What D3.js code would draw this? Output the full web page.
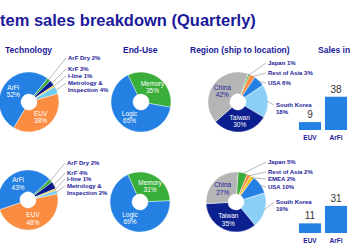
<!DOCTYPE html>
<html>
<head>
<meta charset="utf-8">
<script src="https://cdn.jsdelivr.net/npm/d3@7"></script>
<style>
  body { margin: 0; background: #fff; }
  svg { display: block; font-family: "Liberation Sans", Arial, sans-serif; }
</style>
</head>
<body>
<div class="chart"></div>
<script>
// data
const techNames = ["ArF Dry", "KrF", "I-line", "Metrology & Inspection", "EUV", "ArFi"]
const techTop = [2, 3, 1, 4, 38, 52]
const techBottom = [2, 4, 1, 2, 48, 43]

const endUseNames = ["Memory", "Logic"]
const endUseTop = [35, 65]
const endUseBottom = [31, 69]

const regionTopNames = ["Japan", "Rest of Asia", "USA", "South Korea", "Taiwan", "China"]
const regionTop = [1, 3, 6, 18, 30, 42]
const regionBottomNames = ["Japan", "Rest of Asia", "EMEA", "USA", "South Korea", "Taiwan", "China"]
const regionBottom = [5, 2, 2, 10, 19, 35, 27]

const salesCats = ["EUV", "ArFi"]
const salesTop = [9, 38]
const salesBottom = [11, 31]

const navy = "#1c1a9a"

const colors = {
    "ArFi": "#2580e3", "EUV": "#fb8d43", "ArF Dry": "#3aae3a", "KrF": "#0c1b8c",
    "I-line": "#f3c41c", "Metrology & Inspection": "#6fcbf0",
    "Memory": "#3aae3a", "Logic": "#2580e3",
    "Japan": "#3aae3a", "Rest of Asia": "#fb8d43", "EMEA": "#f3c41c", "USA": "#2580e3",
    "South Korea": "#8ccff6", "Taiwan": "#0c1f8e", "China": "#b5b5b5"
}

const inside = { "ArFi": "#fff", "EUV": "#fff", "Memory": "#fff", "Logic": "#fff", "Taiwan": "#fff", "China": navy }

const wrapper = d3.select(".chart")
    .append("svg")
    .attr("width", 350)
    .attr("height", 250)

wrapper.append("text")
    .attr("x", 0).attr("y", 26)
    .attr("font-size", 16.5).attr("font-weight", "bold")
    .attr("fill", navy)
    .text("tem sales breakdown (Quarterly)")

const headers = [["Technology", 5], ["End-Use", 123], ["Region (ship to location)", 190], ["Sales in", 318]]
wrapper.selectAll("text.hdr")
    .data(headers)
    .join("text")
    .attr("class", "hdr")
    .attr("x", d => d[1])
    .attr("y", 53)
    .attr("font-size", 8.5).attr("font-weight", "bold")
    .attr("fill", navy)
    .text(d => d[0])

const R = 30, r0 = 8

function drawPie(cx, cy, names, values, start, outer) {
    const data = names.map((n, i) => ({ name: n, v: values[i] }))
    const pie = d3.pie().sort(null).value(d => d.v)
        .startAngle(start * Math.PI / 180)
        .endAngle(start * Math.PI / 180 + 2 * Math.PI)
    const arcs = pie(data)
    const arc = d3.arc().innerRadius(r0).outerRadius(R)
    const labelArc = d3.arc().innerRadius(19).outerRadius(19)

    const g = wrapper.append("g").attr("transform", `translate(${cx},${cy})`)

    g.selectAll("path")
        .data(arcs)
        .join("path")
        .attr("d", arc)
        .attr("fill", d => colors[d.data.name])
        .attr("stroke", "#fff")
        .attr("stroke-width", 0.4)

    // labels inside the big slices
    const ins = g.selectAll("text.in")
        .data(arcs.filter(d => inside[d.data.name]))
        .join("text")
        .attr("class", "in")
        .attr("transform", d => `translate(${labelArc.centroid(d)})`)
        .attr("text-anchor", "middle")
        .attr("font-size", 6.5)
        .attr("fill", d => inside[d.data.name])
    ins.append("tspan").attr("x", 0).attr("dy", "-0.2em").text(d => d.data.name)
    ins.append("tspan").attr("x", 0).attr("dy", "1.15em").text(d => d.data.v + "%")

    // callouts for the small slices
    const outs = arcs.filter(d => !inside[d.data.name])
    outs.forEach((d, i) => {
        const o = outer[i]
        const a = (d.startAngle + d.endAngle) / 2
        const px = Math.sin(a) * (R - 1), py = -Math.cos(a) * (R - 1)
        const lx = o.x - cx, ly = o.y - cy
        g.append("polyline")
            .attr("points", [[px, py], [lx - 2, ly - 2]].join(" "))
            .attr("fill", "none")
            .attr("stroke", "#8a8a8a")
            .attr("stroke-width", 0.6)
        const t = g.append("text")
            .attr("x", lx).attr("y", ly)
            .attr("font-size", 6).attr("font-weight", "bold")
            .attr("fill", navy)
        const lines = o.lines || [d.data.name + " " + d.data.v + "%"]
        lines.forEach((s, k) => {
            t.append("tspan").attr("x", lx).attr("dy", k == 0 ? 0 : "1.1em").text(s)
        })
    })
}

// technology
drawPie(29, 102, techNames, techTop, 38, [
    { x: 68, y: 60 }, { x: 68, y: 71 }, { x: 68, y: 78 },
    { x: 68, y: 85, lines: ["Metrology &", "Inspection " + techTop[3] + "%"] }
])
drawPie(28, 200, techNames, techBottom, 46, [
    { x: 67, y: 165 }, { x: 67, y: 175 }, { x: 67, y: 181 },
    { x: 67, y: 188, lines: ["Metrology &", "Inspection " + techBottom[3] + "%"] }
])

// end-use
drawPie(141, 102, endUseNames, endUseTop, -26, [])
drawPie(140, 202, endUseNames, endUseBottom, -24, [])

// region
drawPie(238, 102, regionTopNames, regionTop, 20, [
    { x: 268, y: 65 }, { x: 268, y: 75 }, { x: 268, y: 85 },
    { x: 276, y: 107, lines: ["South Korea", regionTop[3] + "%"] }
])
drawPie(236, 202, regionBottomNames, regionBottom, 4, [
    { x: 268, y: 164 }, { x: 268, y: 174 }, { x: 268, y: 181 }, { x: 268, y: 189 },
    { x: 276, y: 204, lines: ["South Korea", regionBottom[4] + "%"] }
])

// sales bars
const xScale = d3.scaleBand()
    .domain(salesCats)
    .range([297, 349])
    .paddingInner(0.15)
    .paddingOuter(0.075)

function drawBars(values, base) {
    const yScale = d3.scaleLinear().domain([0, 40]).range([base, base - 35])
    const data = salesCats.map((c, i) => ({ c, v: values[i] }))
    const g = wrapper.append("g")
    g.selectAll("rect")
        .data(data)
        .join("rect")
        .attr("x", d => xScale(d.c))
        .attr("y", d => yScale(d.v))
        .attr("width", xScale.bandwidth())
        .attr("height", d => yScale(0) - yScale(d.v))
        .attr("fill", "#2580e3")
    g.selectAll("text.val")
        .data(data)
        .join("text")
        .attr("class", "val")
        .attr("x", d => xScale(d.c) + xScale.bandwidth() / 2)
        .attr("y", d => yScale(d.v) - 4)
        .attr("text-anchor", "middle")
        .attr("font-size", 10)
        .attr("fill", "#333")
        .text(d => d.v)
    g.selectAll("text.cat")
        .data(data)
        .join("text")
        .attr("class", "cat")
        .attr("x", d => xScale(d.c) + xScale.bandwidth() / 2)
        .attr("y", base + 10)
        .attr("text-anchor", "middle")
        .attr("font-size", 6.5).attr("font-weight", "bold")
        .attr("fill", navy)
        .text(d => d.c)
}

drawBars(salesTop, 130)
drawBars(salesBottom, 233)
</script>
</body>
</html>
